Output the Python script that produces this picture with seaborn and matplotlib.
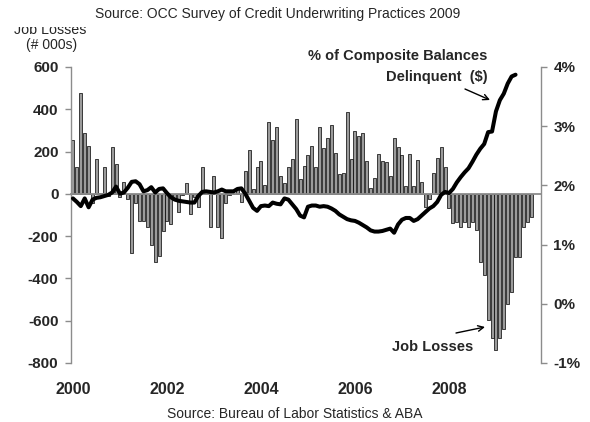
import numpy as np
import pandas as pd
import matplotlib
matplotlib.use("Agg")
import matplotlib.pyplot as plt
import seaborn as sns
from matplotlib.patches import Rectangle
from matplotlib.ticker import MultipleLocator, FuncFormatter

# Monthly change in payroll employment (thousands), Jan 2000 onward
job_changes = [
    254, 125, 476, 290, 227, -45, 167, 2, 125, -10, 222, 140,          # 2000
    -15, 55, -22, -279, -43, -128, -128, -159, -244, -323, -292, -178,  # 2001
    -128, -144, -26, -85, -6, 49, -96, -15, -60, 128, 15, -156,        # 2002
    86, -155, -211, -45, -5, -2, 25, -38, 107, 207, 21, 128,           # 2003
    155, 44, 341, 254, 314, 84, 49, 125, 164, 355, 68, 134,            # 2004
    186, 226, 125, 317, 215, 262, 325, 191, 92, 101, 385, 164,         # 2005
    298, 276, 286, 155, 26, 73, 188, 155, 152, 85, 264, 221,           # 2006
    183, 36, 187, 36, 160, 57, -61, -22, 101, 168, 220, 125,           # 2007
    -69, -140, -132, -156, -132, -159, -132, -172, -322, -382, -598, -680,  # 2008
    -740, -680, -637, -519, -464, -301, -301, -156, -132, -108,        # 2009
]

# % of composite balances delinquent, monthly from Jan 2000
delinquency_pct = [
    1.78, 1.72, 1.65, 1.78, 1.63, 1.76, 1.79, 1.80, 1.82, 1.84, 1.88, 1.98,
    1.86, 1.88, 1.96, 2.06, 2.07, 2.02, 1.90, 1.92, 1.97, 1.88, 1.94, 1.95,
    1.87, 1.80, 1.76, 1.74, 1.73, 1.72, 1.71, 1.71, 1.82, 1.89, 1.90, 1.89,
    1.88, 1.90, 1.93, 1.90, 1.90, 1.90, 1.94, 1.95, 1.86, 1.74, 1.62, 1.57,
    1.65, 1.66, 1.65, 1.71, 1.69, 1.68, 1.78, 1.76, 1.68, 1.60, 1.49, 1.46,
    1.64, 1.66, 1.66, 1.64, 1.65, 1.64, 1.61, 1.57, 1.51, 1.47, 1.43, 1.41,
    1.40, 1.37, 1.33, 1.29, 1.24, 1.22, 1.22, 1.23, 1.25, 1.27, 1.20, 1.34,
    1.42, 1.45, 1.45, 1.40, 1.43, 1.49, 1.55, 1.61, 1.65, 1.72, 1.84, 1.89,
    1.87, 1.94, 2.05, 2.14, 2.22, 2.29, 2.40, 2.52, 2.62, 2.70, 2.90, 2.91,
    3.25, 3.44, 3.55, 3.72, 3.84, 3.87,
]

year_labels = ["2000", "2002", "2004", "2006", "2008"]
n_slots = 120  # Jan 2000 - Dec 2009

sns.set_style("white")
plt.rcParams["font.family"] = ["Liberation Sans", "DejaVu Sans"]
plt.rcParams["font.weight"] = "bold"

W, H = 590, 422
fig = plt.figure(figsize=(W / 100, H / 100), dpi=100)
ax = fig.add_axes([71 / W, 1 - 363 / H, (541 - 71) / W, (363 - 67) / H])

axis_grey = "#8c8c8c"

bars = pd.DataFrame({"month": np.arange(len(job_changes)), "jobs": job_changes})
sns.barplot(data=bars, x="month", y="jobs", color="#9b9b9b", saturation=1,
            edgecolor="black", linewidth=0.5, width=0.75, errorbar=None, ax=ax)

ax.set_xlim(-0.5, n_slots - 0.5)
ax.set_ylim(-800, 600)
ax.set_xlabel("")
ax.set_ylabel("")

# left value axis
ax.yaxis.set_major_locator(MultipleLocator(200))
ax.yaxis.set_major_formatter(FuncFormatter(lambda v, _: f"{v:.0f}"))
ax.tick_params(axis="y", direction="out", length=4, width=1, color=axis_grey,
               pad=5, labelsize=11)
ax.spines["left"].set_color(axis_grey)
ax.spines["left"].set_linewidth(1)

# category axis crossing at zero
ax.spines["bottom"].set_position(("data", 0))
ax.spines["bottom"].set_color(axis_grey)
ax.spines["bottom"].set_linewidth(1.3)
ax.set_xticks(np.arange(-0.5, n_slots, 1))
ax.tick_params(axis="x", direction="out", length=4, width=0.8, color="#a8a8a8",
               labelbottom=False)
ax.spines["top"].set_visible(False)
ax.spines["right"].set_visible(False)

# year labels along the bottom of the plot area
years = ax.secondary_xaxis("bottom")
years.set_xticks([0, 24, 48, 72, 96], labels=year_labels)
years.tick_params(length=0, pad=14, labelsize=11.5)
years.spines["bottom"].set_visible(False)

# delinquency line on the right-hand axis
ax2 = ax.twinx()
sns.lineplot(x=np.arange(len(delinquency_pct)), y=delinquency_pct,
             color="black", linewidth=2.9, ax=ax2)
ax2.set_xlim(-0.5, n_slots - 0.5)
ax2.set_ylim(-1, 4)
ax2.set_ylabel("")
ax2.yaxis.set_major_locator(MultipleLocator(1))
ax2.yaxis.set_major_formatter(FuncFormatter(lambda v, _: f"{v:.0f}%"))
ax2.tick_params(axis="y", direction="out", length=4, width=1, color=axis_grey,
                pad=5, labelsize=11)
for side in ["left", "top", "bottom"]:
    ax2.spines[side].set_visible(False)
ax2.spines["right"].set_color(axis_grey)
ax2.spines["right"].set_linewidth(1)


def px(x, y):
    return x / W, 1 - y / H


fig.text(*px(95, 18), "Source: OCC Survey of Credit Underwriting Practices 2009",
         fontsize=10, fontweight="normal", va="baseline", ha="left")
fig.text(*px(167, 418), "Source: Bureau of Labor Statistics & ABA",
         fontsize=10, fontweight="normal", va="baseline", ha="left")

fig.text(*px(50, 34), "Job Losses", fontsize=10.3, fontweight="normal",
         va="baseline", ha="center", zorder=3)
# the unit caption sits partly under the header band
fig.add_artist(Rectangle(px(0, 27), 92 / W, 27 / H, transform=fig.transFigure,
                         facecolor="white", edgecolor="none", zorder=5))
fig.text(*px(52, 49), "(# 000s)", fontsize=10, fontweight="normal",
         va="baseline", ha="center")

fig.text(*px(487, 60), "% of Composite Balances", fontsize=10.5,
         va="baseline", ha="right")
fig.text(*px(488, 81), "Delinquent  ($)", fontsize=10.5,
         va="baseline", ha="right")
fig.text(*px(473, 351), "Job Losses", fontsize=10.5, va="baseline", ha="right")

arrow = dict(arrowstyle="->", lw=1, color="black", shrinkA=0, shrinkB=0)
ax.annotate("", xy=(490, H - 100), xytext=(465, H - 89),
            xycoords="figure pixels", textcoords="figure pixels",
            arrowprops=arrow, annotation_clip=False)
ax.annotate("", xy=(485, H - 327), xytext=(456, H - 333),
            xycoords="figure pixels", textcoords="figure pixels",
            arrowprops=arrow, annotation_clip=False)

fig.savefig("out.png", dpi=100)
